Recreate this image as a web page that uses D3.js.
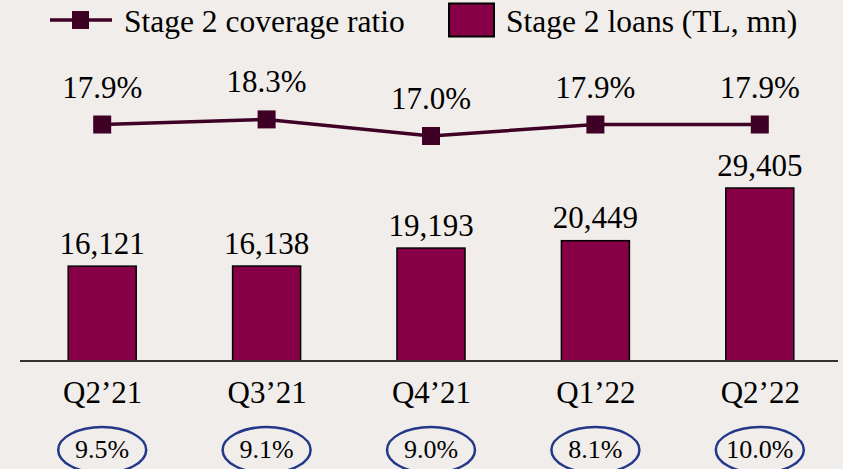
<!DOCTYPE html>
<html>
<head>
<meta charset="utf-8">
<script src="https://cdn.jsdelivr.net/npm/d3@7"></script>
<style>
  html, body { margin: 0; padding: 0; background: #f0edea; }
  svg { display: block; }
</style>
</head>
<body>
<div class="chart-container"></div>
<script>
//Data
const quarters = ['Q2\u201921', 'Q3\u201921', 'Q4\u201921', 'Q1\u201922', 'Q2\u201922'];
const stage2Loans = [16121, 16138, 19193, 20449, 29405];
const coverageRatio = [17.9, 18.3, 17.0, 17.9, 17.9];
const stage2Share = ['9.5%', '9.1%', '9.0%', '8.1%', '10.0%'];
const legendLabels = ['Stage 2 coverage ratio', 'Stage 2 loans (TL, mn)'];

//Colors
const barColor = '#870047';
const lineColor = '#3f0026';
const ellipseColor = '#24388a';
const font = '"Liberation Serif"';

//Main
function ready(){
    const width = 843;
    const height = 469;

    const svg = d3.select('.chart-container')
        .append('svg')
        .attr('width', width)
        .attr('height', height)
        .style('font-family', font);

    //Scales
    const xScale = d3.scalePoint()
        .domain(quarters)
        .range([20, 842])
        .padding(0.5);

    const yBar = d3.scaleLinear()
        .domain([0, 29405])
        .range([361, 188]);

    const yLine = d3.scaleLinear()
        .domain([17.0, 18.3])
        .range([136, 119.4]);

    const barWidth = 68;
    const fmt = d3.format(',');

    //Bars
    svg.selectAll('.bar')
        .data(stage2Loans)
        .enter()
        .append('rect')
        .attr('class', 'bar')
        .attr('x', (d, i) => xScale(quarters[i]) - barWidth / 2)
        .attr('y', d => yBar(d))
        .attr('width', barWidth)
        .attr('height', d => yBar(0) - yBar(d))
        .style('fill', barColor)
        .style('stroke', '#000')
        .style('stroke-width', 1.5);

    svg.selectAll('.bar-label')
        .data(stage2Loans)
        .enter()
        .append('text')
        .attr('class', 'bar-label')
        .attr('x', (d, i) => xScale(quarters[i]))
        .attr('y', d => yBar(d) - 12.5)
        .attr('text-anchor', 'middle')
        .style('font-family', font)
        .style('font-size', '31px')
        .text(d => fmt(d));

    //Baseline
    svg.append('line')
        .attr('x1', 20)
        .attr('x2', 838)
        .attr('y1', yBar(0))
        .attr('y2', yBar(0))
        .style('stroke', '#333')
        .style('stroke-width', 2);

    //Category axis
    const xAxis = d3.axisBottom(xScale).tickSize(0).tickPadding(0);
    const xAxisDraw = svg.append('g')
        .attr('class', 'x axis')
        .attr('transform', 'translate(0, 403)')
        .call(xAxis);
    xAxisDraw.select('.domain').remove();
    xAxisDraw.attr('font-family', null).attr('font-size', null);
    xAxisDraw.selectAll('text')
        .attr('y', 0)
        .attr('dy', 0)
        .style('font-family', font)
        .style('font-size', '31px')
        .style('fill', '#000');

    //Line
    const line = d3.line()
        .x((d, i) => xScale(quarters[i]))
        .y(d => yLine(d));

    svg.append('path')
        .datum(coverageRatio)
        .attr('d', line)
        .style('fill', 'none')
        .style('stroke', lineColor)
        .style('stroke-width', 3.5);

    const markerSize = 18;
    svg.selectAll('.marker')
        .data(coverageRatio)
        .enter()
        .append('rect')
        .attr('class', 'marker')
        .attr('x', (d, i) => xScale(quarters[i]) - markerSize / 2)
        .attr('y', d => yLine(d) - markerSize / 2)
        .attr('width', markerSize)
        .attr('height', markerSize)
        .style('fill', lineColor);

    svg.selectAll('.line-label')
        .data(coverageRatio)
        .enter()
        .append('text')
        .attr('class', 'line-label')
        .attr('x', (d, i) => xScale(quarters[i]))
        .attr('y', d => yLine(d) - 27)
        .attr('text-anchor', 'middle')
        .style('font-family', font)
        .style('font-size', '31px')
        .text(d => d.toFixed(1) + '%');

    //Ellipses with share
    const shares = svg.selectAll('.share')
        .data(stage2Share)
        .enter()
        .append('g')
        .attr('class', 'share')
        .attr('transform', (d, i) => `translate(${xScale(quarters[i])}, 450)`);

    shares.append('ellipse')
        .attr('rx', 44)
        .attr('ry', 23)
        .style('fill', 'none')
        .style('stroke', ellipseColor)
        .style('stroke-width', 2.5);

    shares.append('text')
        .attr('y', 8)
        .attr('text-anchor', 'middle')
        .style('font-family', font)
        .style('font-size', '26px')
        .text(d => d);

    //Legend
    const legend = svg.append('g').attr('class', 'legend');

    legend.append('line')
        .attr('x1', 50).attr('x2', 112)
        .attr('y1', 20).attr('y2', 20)
        .style('stroke', lineColor)
        .style('stroke-width', 3.5);

    legend.append('rect')
        .attr('x', 72).attr('y', 11)
        .attr('width', 17).attr('height', 18)
        .style('fill', lineColor);

    legend.append('text')
        .attr('x', 124).attr('y', 32)
        .style('font-family', font)
        .style('font-size', '31.5px')
        .text(legendLabels[0]);

    legend.append('rect')
        .attr('x', 449).attr('y', 3.5)
        .attr('width', 45).attr('height', 33)
        .style('fill', barColor)
        .style('stroke', '#000')
        .style('stroke-width', 2);

    legend.append('text')
        .attr('x', 506).attr('y', 32)
        .style('font-family', font)
        .style('font-size', '31.5px')
        .text(legendLabels[1]);
}

ready();
</script>
</body>
</html>
